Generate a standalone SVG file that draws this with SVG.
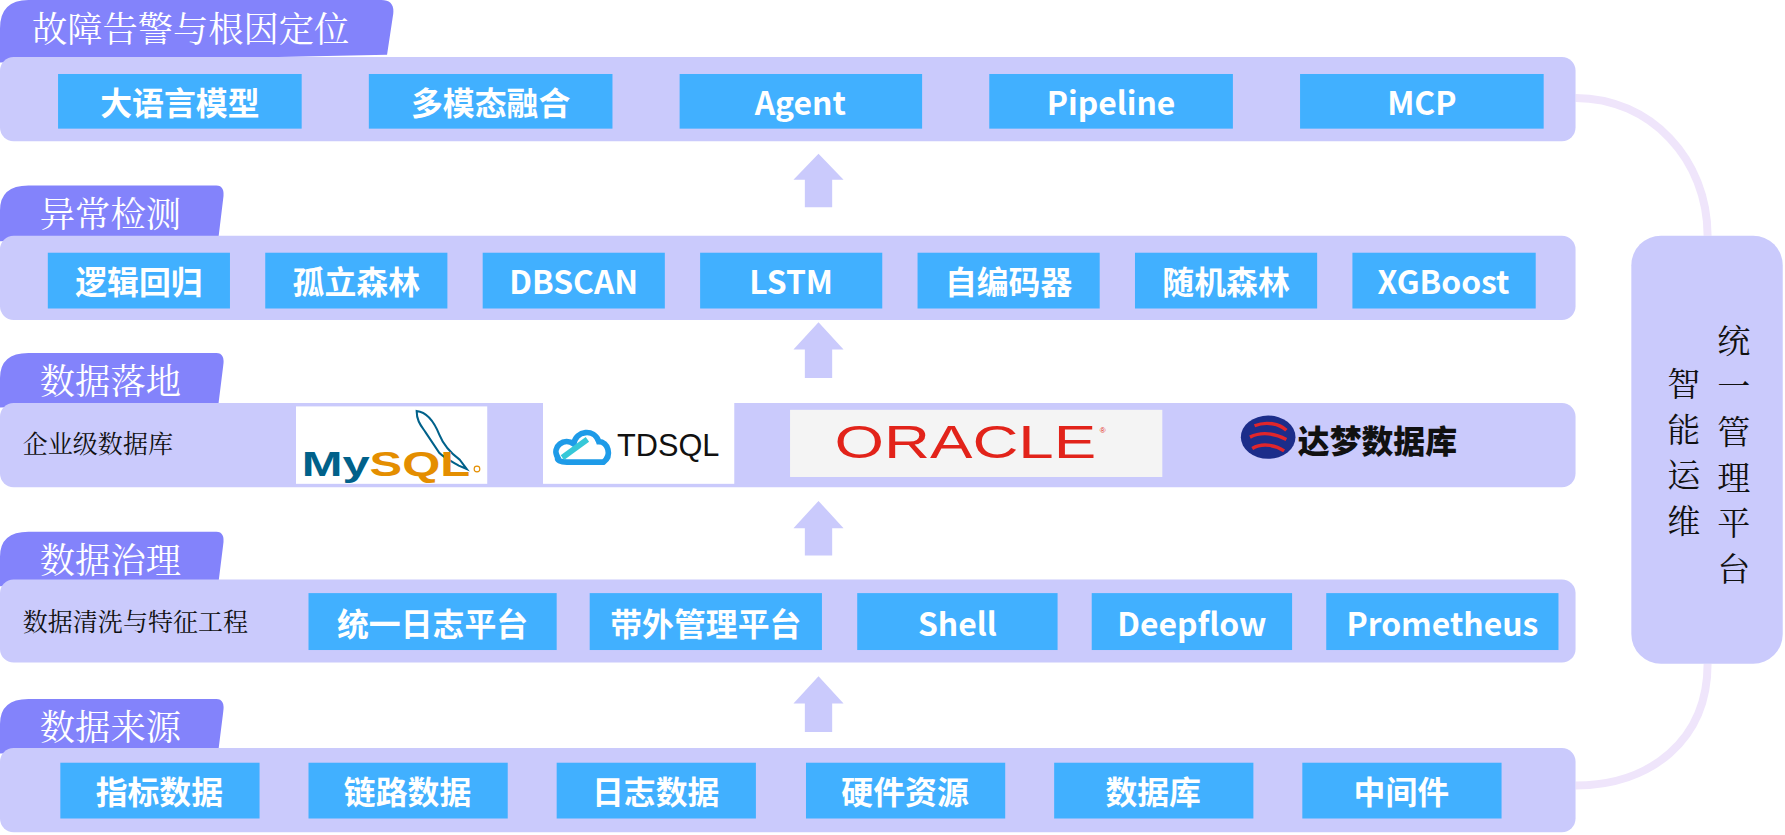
<svg xmlns="http://www.w3.org/2000/svg" width="1785" height="835" viewBox="0 0 1785 835">
<defs>
<style>
.panel{fill:#CACAFC}
.tab{fill:#8383FB}
.tabt{font-family:"Noto Serif CJK SC","Noto Sans CJK SC",serif;font-size:31px;fill:#fff}
.box{fill:#41B0FF}
.bt{font-family:"Noto Sans CJK SC","Open Sans",sans-serif;font-weight:bold;font-size:28px;fill:#fff;text-anchor:middle;dominant-baseline:central}
.lt{font-family:"Noto Serif CJK SC","Noto Sans CJK SC",serif;font-size:22px;fill:#111}
.arr{fill:#CACAFC}
.vt{font-family:"Noto Serif CJK SC","Noto Sans CJK SC",serif;font-size:29px;fill:#111;text-anchor:middle}
</style>
</defs>
<rect width="1785" height="835" fill="#fff"/>
<g transform="scale(1.1384)">
<g id="connectors" fill="none" stroke="#EFE5FB" stroke-width="7">
<path d="M1384,86 C1450,86 1500,140 1500,207"/>
<path d="M1500,583 C1500,650 1450,690 1384,690"/>
<g class="arr" stroke="none">
<path d="M697,158 L719,135 L741,158 L731,158 L731,182 L707,182 L707,158Z"/>
<path d="M697,307 L719,283 L741,307 L731,307 L731,332 L707,332 L707,307Z"/>
<path d="M697,464 L719,440 L741,464 L731,464 L731,488 L707,488 L707,464Z"/>
<path d="M697,618 L719,594 L741,618 L731,618 L731,643 L707,643 L707,618Z"/>
</g>
</g>

<g id="layer1">
<path class="tab" d="M0,55 L0,25 Q0,0 25,0 L335,0 Q348,0 345,15 L340,48 L0,55Z"/>
<text class="tabt" x="28" y="37">故障告警与根因定位</text>
<rect class="panel" x="0" y="50" width="1384" height="74" rx="12"/>
<rect class="box" x="51" y="65" width="214" height="48"/><text class="bt" x="158" y="89">大语言模型</text>
<rect class="box" x="324" y="65" width="214" height="48"/><text class="bt" x="431" y="89">多模态融合</text>
<rect class="box" x="597" y="65" width="213" height="48"/><text class="bt" x="703" y="89">Agent</text>
<rect class="box" x="869" y="65" width="214" height="48"/><text class="bt" x="976" y="89">Pipeline</text>
<rect class="box" x="1142" y="65" width="214" height="48"/><text class="bt" x="1249" y="89">MCP</text>
</g>

<g id="layer2">
<path class="tab" d="M0,212 L0,185 Q0,163 25,163 L190,163 Q198,163 196,175 L192,208 L0,212Z"/>
<text class="tabt" x="35" y="199">异常检测</text>
<rect class="panel" x="0" y="207" width="1384" height="74" rx="12"/>
<rect class="box" x="42" y="222" width="160" height="49"/><text class="bt" x="122" y="246">逻辑回归</text>
<rect class="box" x="233" y="222" width="160" height="49"/><text class="bt" x="313" y="246">孤立森林</text>
<rect class="box" x="424" y="222" width="160" height="49"/><text class="bt" x="504" y="246">DBSCAN</text>
<rect class="box" x="615" y="222" width="160" height="49"/><text class="bt" x="695" y="246">LSTM</text>
<rect class="box" x="806" y="222" width="160" height="49"/><text class="bt" x="886" y="246">自编码器</text>
<rect class="box" x="997" y="222" width="160" height="49"/><text class="bt" x="1077" y="246">随机森林</text>
<rect class="box" x="1188" y="222" width="161" height="49"/><text class="bt" x="1268" y="246">XGBoost</text>
</g>

<g id="layer3">
<path class="tab" d="M0,358 L0,332 Q0,310 25,310 L190,310 Q198,310 196,322 L192,354 L0,358Z"/>
<text class="tabt" x="35" y="346">数据落地</text>
<rect class="panel" x="0" y="354" width="1384" height="74" rx="12"/>
<text class="lt" x="20" y="398">企业级数据库</text>
<g id="mysql">
<rect x="260" y="357" width="168" height="68" fill="#fff"/>
<path d="M366,361 C376,362 382,372 386,382 C390,392 396,398 404,404 L410,412 L403,409 C396,405 390,402 386,398 C382,392 378,386 374,380 C370,374 366,370 366,361Z" fill="none" stroke="#00618A" stroke-width="1.8"/>
<text x="265" y="418" font-family="'Liberation Sans',sans-serif" font-size="30" font-weight="bold" textLength="148" lengthAdjust="spacingAndGlyphs"><tspan fill="#00618A">My</tspan><tspan fill="#E48E00">SQL</tspan></text>
<circle cx="419" cy="412" r="2.5" fill="none" stroke="#E48E00"/>
</g>
<g id="tdsql">
<rect x="477" y="354" width="168" height="71" fill="#fff"/>
<path d="M490,402 C484,392 496,384 504,390 C506,378 522,376 526,388 C534,388 538,400 530,406 L498,406 C492,406 489,404 490,402Z" fill="none" stroke="#1E9BE8" stroke-width="5"/>
<path d="M494,402 L516,386" stroke="#36C8D8" stroke-width="5"/>
<text x="542" y="401" font-family="'Liberation Sans',sans-serif" font-size="27" fill="#111">TDSQL</text>
</g>
<g id="oracle">
<rect x="694" y="360" width="327" height="59" fill="#F4F4F4"/>
<text x="733" y="402" font-family="'Liberation Sans',sans-serif" font-size="40" fill="#E2231A" textLength="230" lengthAdjust="spacingAndGlyphs">ORACLE</text>
<text x="966" y="380" font-family="'Liberation Sans',sans-serif" font-size="7" fill="#E2231A">®</text>
</g>
<g id="dameng">
<ellipse cx="1114" cy="384" rx="24" ry="19" fill="#1C2D8A"/>
<path d="M1102,374 C1112,370 1124,372 1130,378 M1098,384 C1110,378 1122,382 1130,386 M1100,394 C1110,388 1122,392 1128,396" fill="none" stroke="#E0262B" stroke-width="3"/>
<text x="1140" y="398" font-family="'Noto Sans CJK SC',sans-serif" font-weight="900" font-size="28" fill="#111">达梦数据库</text>
</g>
</g>

<g id="layer4">
<path class="tab" d="M0,515 L0,489 Q0,467 25,467 L190,467 Q198,467 196,479 L192,511 L0,515Z"/>
<text class="tabt" x="35" y="503">数据治理</text>
<rect class="panel" x="0" y="509" width="1384" height="73" rx="12"/>
<text class="lt" x="20" y="554">数据清洗与特征工程</text>
<rect class="box" x="271" y="521" width="218" height="50"/><text class="bt" x="380" y="546">统一日志平台</text>
<rect class="box" x="518" y="521" width="204" height="50"/><text class="bt" x="620" y="546">带外管理平台</text>
<rect class="box" x="753" y="521" width="176" height="50"/><text class="bt" x="841" y="546">Shell</text>
<rect class="box" x="959" y="521" width="176" height="50"/><text class="bt" x="1047" y="546">Deepflow</text>
<rect class="box" x="1165" y="521" width="204" height="50"/><text class="bt" x="1267" y="546">Prometheus</text>
</g>

<g id="layer5">
<path class="tab" d="M0,662 L0,636 Q0,614 25,614 L190,614 Q198,614 196,626 L192,658 L0,662Z"/>
<text class="tabt" x="35" y="650">数据来源</text>
<rect class="panel" x="0" y="657" width="1384" height="74" rx="12"/>
<rect class="box" x="53" y="670" width="175" height="49"/><text class="bt" x="140" y="694">指标数据</text>
<rect class="box" x="271" y="670" width="175" height="49"/><text class="bt" x="358" y="694">链路数据</text>
<rect class="box" x="489" y="670" width="175" height="49"/><text class="bt" x="576" y="694">日志数据</text>
<rect class="box" x="708" y="670" width="175" height="49"/><text class="bt" x="795" y="694">硬件资源</text>
<rect class="box" x="926" y="670" width="175" height="49"/><text class="bt" x="1013" y="694">数据库</text>
<rect class="box" x="1144" y="670" width="175" height="49"/><text class="bt" x="1231" y="694">中间件</text>
</g>

<g id="platform">
<rect class="panel" x="1433" y="207" width="133" height="376" rx="26"/>
<text class="vt" x="1523" y="310">统</text>
<text class="vt" x="1523" y="350">一</text>
<text class="vt" x="1523" y="390">管</text>
<text class="vt" x="1523" y="430">理</text>
<text class="vt" x="1523" y="470">平</text>
<text class="vt" x="1523" y="510">台</text>
<text class="vt" x="1479" y="348">智</text>
<text class="vt" x="1479" y="388">能</text>
<text class="vt" x="1479" y="428">运</text>
<text class="vt" x="1479" y="468">维</text>
</g>
</g>
</svg>
